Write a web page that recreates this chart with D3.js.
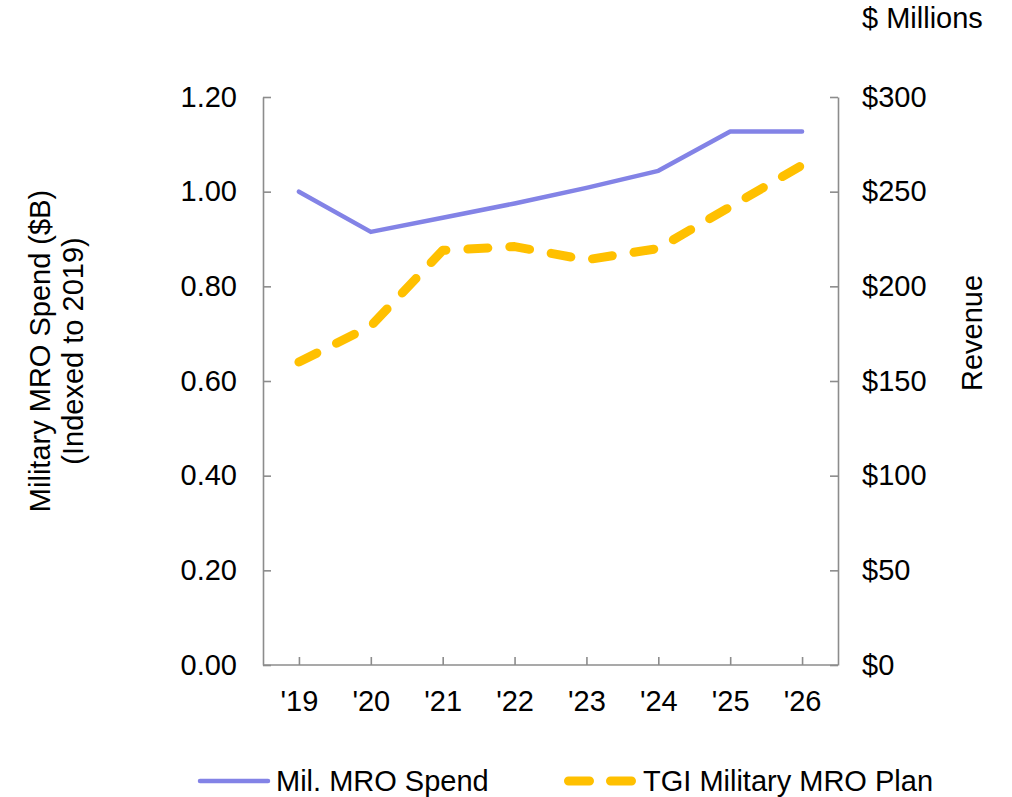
<!DOCTYPE html>
<html>
<head>
<meta charset="utf-8">
<script src="https://cdn.jsdelivr.net/npm/d3@7"></script>
<style>
  html, body { margin: 0; padding: 0; background: #ffffff; }
  svg { display: block; }
  text { font-family: "Liberation Sans", Arial, sans-serif; fill: #000; }
</style>
</head>
<body>
<svg id="chart" width="1012" height="797"></svg>
<script>
// Fiscal years on the category axis
const years = ["'19", "'20", "'21", "'22", "'23", "'24", "'25", "'26"];

// Military MRO spend, indexed to 2019 (left axis)
const milSpend = [1.00, 0.915, 0.945, 0.975, 1.008, 1.044, 1.127, 1.127];

// TGI military MRO revenue plan, $ millions (right axis)
const tgiPlan = [160, 179, 219, 221, 214, 220, 242, 264];

// Axis tick values
const leftTicks = [0, 0.2, 0.4, 0.6, 0.8, 1.0, 1.2];
const rightTicks = [0, 50, 100, 150, 200, 250, 300];

const seriesNames = ["Mil. MRO Spend", "TGI Military MRO Plan"];

const svg = d3.select("#chart");
const plot = { left: 263, right: 838, top: 97, bottom: 665 };
const FONT = 29;
const axisColor = "#8c8c8c";
const purple = "#8383e6";
const gold = "#ffc000";

const x = d3.scalePoint().domain(years).range([plot.left, plot.right]).padding(0.5);
const yL = d3.scaleLinear().domain([0, 1.2]).range([plot.bottom, plot.top]);
const yR = d3.scaleLinear().domain([0, 300]).range([plot.bottom, plot.top]);

function styleAxis(g) {
  g.attr("font-size", null).attr("font-family", null);
  g.selectAll("path.domain").attr("stroke", axisColor).attr("stroke-width", 1.6);
  g.selectAll(".tick line").attr("stroke", axisColor).attr("stroke-width", 1.6);
  g.selectAll(".tick text").style("font-size", FONT + "px").attr("fill", "#000");
}

// Left axis
svg.append("g")
  .attr("transform", `translate(${plot.left},0)`)
  .call(d3.axisLeft(yL).tickValues(leftTicks).tickFormat(d3.format(".2f"))
    .tickSizeInner(-8).tickSizeOuter(0).tickPadding(26))
  .call(styleAxis);

// Right axis
svg.append("g")
  .attr("transform", `translate(${plot.right},0)`)
  .call(d3.axisRight(yR).tickValues(rightTicks).tickFormat(d => "$" + d)
    .tickSizeInner(-8).tickSizeOuter(0).tickPadding(24))
  .call(styleAxis);

// Bottom axis: ticks sit at category centres, pointing into the plot
const bottomAxis = svg.append("g")
  .attr("transform", `translate(0,${plot.bottom})`)
  .call(d3.axisBottom(x).tickSizeInner(-8).tickSizeOuter(0).tickPadding(25))
  .call(styleAxis);
// extend the baseline across the whole plot width
bottomAxis.select("path.domain").attr("d", `M${plot.left},0H${plot.right}`);

// Series lines
const lineL = d3.line().x((d, i) => x(years[i])).y(d => yL(d));
const lineR = d3.line().x((d, i) => x(years[i])).y(d => yR(d));

svg.append("path")
  .datum(milSpend)
  .attr("d", lineL)
  .attr("fill", "none")
  .attr("stroke", purple)
  .attr("stroke-width", 4.5)
  .attr("stroke-linecap", "round")
  .attr("stroke-linejoin", "round");

svg.append("path")
  .datum(tgiPlan)
  .attr("d", lineR)
  .attr("fill", "none")
  .attr("stroke", gold)
  .attr("stroke-width", 9)
  .attr("stroke-dasharray", "20,22")
  .attr("stroke-linecap", "round")
  .attr("stroke-linejoin", "round");

// Axis titles
svg.append("text")
  .attr("transform", "translate(40,351) rotate(-90)")
  .attr("text-anchor", "middle").attr("dy", "0.35em")
  .style("font-size", FONT + "px")
  .text("Military MRO Spend ($B)");
svg.append("text")
  .attr("transform", "translate(73,351) rotate(-90)")
  .attr("text-anchor", "middle").attr("dy", "0.35em")
  .style("font-size", FONT + "px")
  .text("(Indexed to 2019)");
svg.append("text")
  .attr("transform", "translate(972,333) rotate(-90)")
  .attr("text-anchor", "middle").attr("dy", "0.35em")
  .style("font-size", FONT + "px")
  .text("Revenue");
svg.append("text")
  .attr("x", 862).attr("y", 28)
  .style("font-size", FONT + "px")
  .text("$ Millions");

// Legend
const legendItems = [
  { name: seriesNames[0], x0: 200, x1: 268, tx: 276, stroke: purple, width: 4.5, dash: null },
  { name: seriesNames[1], x0: 568.5, x1: 631.5, tx: 643, stroke: gold, width: 9, dash: "21,21" }
];
const legendY = 781;
const lg = svg.append("g");
legendItems.forEach(it => {
  lg.append("line")
    .attr("x1", it.x0).attr("x2", it.x1)
    .attr("y1", legendY).attr("y2", legendY)
    .attr("stroke", it.stroke)
    .attr("stroke-width", it.width)
    .attr("stroke-linecap", "round")
    .attr("stroke-dasharray", it.dash);
  lg.append("text")
    .attr("x", it.tx).attr("y", legendY).attr("dy", "0.35em")
    .style("font-size", FONT + "px")
    .text(it.name);
});
</script>
</body>
</html>
